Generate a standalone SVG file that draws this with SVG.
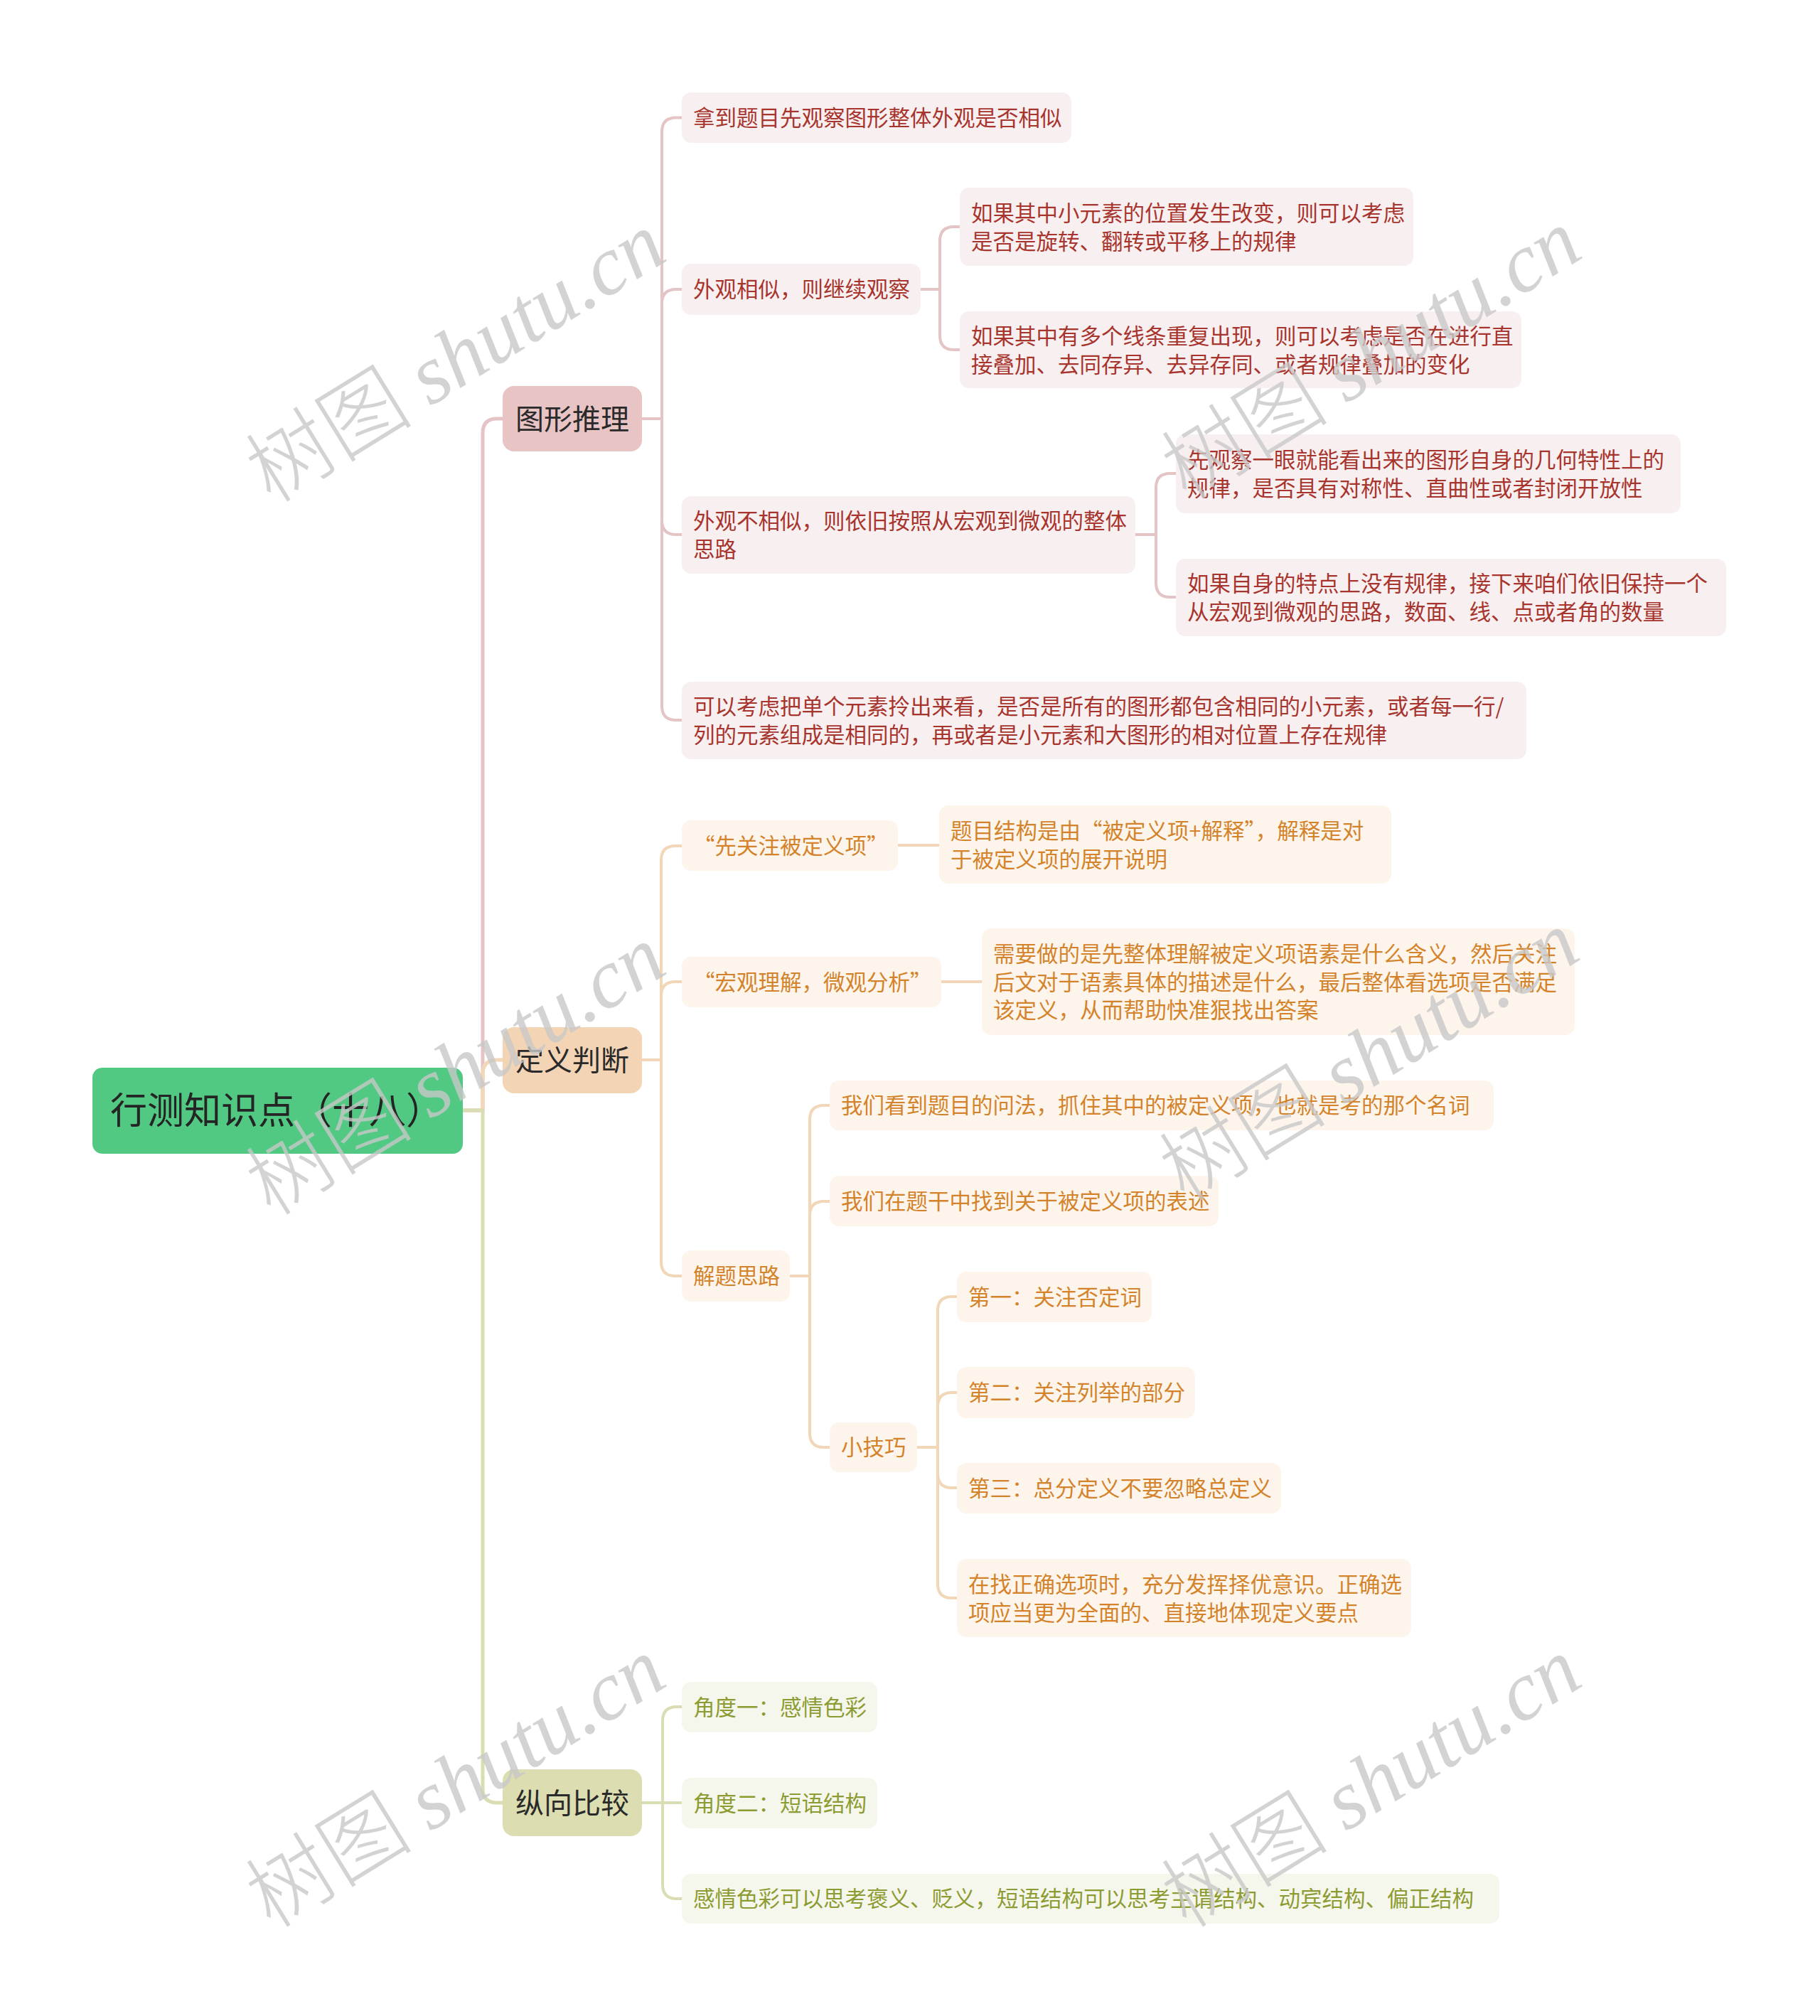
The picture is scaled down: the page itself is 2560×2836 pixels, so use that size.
<svg xmlns="http://www.w3.org/2000/svg" width="2560" height="2836" viewBox="0 0 2560 2836">
<style>
text{font-family:"Noto Sans CJK SC","Noto Sans",sans-serif}
.t0{font-size:52px;fill:#242424}
.t1{font-size:40px;fill:#2a2a2a}
.t2{font-size:30.5px}
.tp{fill:#A8342E}
.to{fill:#D4832B}
.tg{fill:#8C9C33}
.bp{fill:#F8F0F0}
.bo{fill:#FDF5EC}
.bg{fill:#F6F7EC}
.c{fill:none;stroke-width:4;stroke-linecap:round}
.c1{fill:none;stroke-width:5}
.sp{stroke:#E4C4C4}
.so{stroke:#F1D6B8}
.sg{stroke:#DADDB3}
.wm{font-size:118px;font-weight:300;fill:#c8c8c8;fill-opacity:0.8}
.wmi{font-family:"Liberation Serif",serif;font-style:italic;font-weight:normal}
</style>
<rect width="2560" height="2836" fill="#ffffff"/>
<g id="connectors">
<path class="c1 sp" d="M651,1562 H679 V609 Q679,589 699,589 H707"/>
<path class="c1 so" d="M651,1562 H679 V1511 Q679,1491 699,1491 H707"/>
<path class="c1 sg" d="M651,1562 H679 V2516 Q679,2536 699,2536 H707"/>
<path class="c sp" d="M903,589 H931 M931,589 V185.5 Q931,165.5 951,165.5 H959 M931,589 V427 Q931,407 951,407 H959 M931,589 V732 Q931,752 951,752 H959 M931,589 V993 Q931,1013 951,1013 H959"/>
<path class="c sp" d="M1295,407 H1322 M1322,407 V339 Q1322,319 1342,319 H1350 M1322,407 V472 Q1322,492 1342,492 H1350"/>
<path class="c sp" d="M1597,752 H1626 M1626,752 V686 Q1626,666 1646,666 H1654 M1626,752 V820 Q1626,840 1646,840 H1654"/>
<path class="c so" d="M903,1491 H930 M930,1491 V1210 Q930,1190 950,1190 H959 M930,1491 V1401 Q930,1381 950,1381 H959 M930,1491 V1775 Q930,1795 950,1795 H959"/>
<path class="c so" d="M1263,1189 H1321 M1324,1381 H1381"/>
<path class="c so" d="M1111,1795 H1139 M1139,1795 V1575 Q1139,1555 1159,1555 H1167 M1139,1795 V1710 Q1139,1690 1159,1690 H1167 M1139,1795 V2016 Q1139,2036 1159,2036 H1167"/>
<path class="c so" d="M1290,2036 H1319 M1319,2036 V1844 Q1319,1824 1339,1824 H1346 M1319,2036 V1979 Q1319,1959 1339,1959 H1346 M1319,2036 V2073 Q1319,2093 1339,2093 H1346 M1319,2036 V2228 Q1319,2248 1339,2248 H1346"/>
<path class="c sg" d="M903,2536 H959 M932,2536 V2421 Q932,2401 952,2401 H959 M932,2536 V2651 Q932,2671 952,2671 H959"/>
</g>
<g id="root"><rect x="130" y="1502" width="521" height="121" rx="14" fill="#52C983"/><text class="t0" x="155" y="1581">行测知识点（十八）</text></g>
<g id="n-txtl"><rect x="707" y="543" width="196" height="92" rx="16" fill="#E8C4C4"/><text class="t1" x="725" y="604">图形推理</text></g>
<g id="n-dypd"><rect x="707" y="1445" width="196" height="93" rx="16" fill="#F3D5B5"/><text class="t1" x="725" y="1506">定义判断</text></g>
<g id="n-zxbj"><rect x="707" y="2489" width="196" height="94" rx="16" fill="#DCDDB0"/><text class="t1" x="725" y="2551">纵向比较</text></g>

<g id="a1"><rect class="bp" x="959" y="130" width="548" height="71" rx="13"/><text class="t2 tp" x="975" y="177">拿到题目先观察图形整体外观是否相似</text></g>
<g id="a2"><rect class="bp" x="959" y="371" width="336" height="72" rx="13"/><text class="t2 tp" x="975" y="418">外观相似，则继续观察</text></g>
<g id="a2a"><rect class="bp" x="1350" y="264" width="638" height="110" rx="13"/><text class="t2 tp"><tspan x="1366" y="311">如果其中小元素的位置发生改变，则可以考虑</tspan><tspan x="1366" y="350.5">是否是旋转、翻转或平移上的规律</tspan></text></g>
<g id="a2b"><rect class="bp" x="1350" y="438" width="790" height="108" rx="13"/><text class="t2 tp"><tspan x="1366" y="484">如果其中有多个线条重复出现，则可以考虑是否在进行直</tspan><tspan x="1366" y="523.5">接叠加、去同存异、去异存同、或者规律叠加的变化</tspan></text></g>
<g id="a3"><rect class="bp" x="959" y="698" width="638" height="109" rx="13"/><text class="t2 tp"><tspan x="975" y="744">外观不相似，则依旧按照从宏观到微观的整体</tspan><tspan x="975" y="783.5">思路</tspan></text></g>
<g id="a3a"><rect class="bp" x="1654" y="611" width="710" height="111" rx="13"/><text class="t2 tp"><tspan x="1670" y="658">先观察一眼就能看出来的图形自身的几何特性上的</tspan><tspan x="1670" y="697.5">规律，是否具有对称性、直曲性或者封闭开放性</tspan></text></g>
<g id="a3b"><rect class="bp" x="1654" y="786" width="774" height="109" rx="13"/><text class="t2 tp"><tspan x="1670" y="832">如果自身的特点上没有规律，接下来咱们依旧保持一个</tspan><tspan x="1670" y="871.5">从宏观到微观的思路，数面、线、点或者角的数量</tspan></text></g>
<g id="a4"><rect class="bp" x="959" y="959" width="1188" height="109" rx="13"/><text class="t2 tp"><tspan x="975" y="1005">可以考虑把单个元素拎出来看，是否是所有的图形都包含相同的小元素，或者每一行/</tspan><tspan x="975" y="1044.5">列的元素组成是相同的，再或者是小元素和大图形的相对位置上存在规律</tspan></text></g>

<g id="b1"><rect class="bo" x="959" y="1154" width="304" height="71" rx="13"/><text class="t2 to" x="975" y="1201">“先关注被定义项”</text></g>
<g id="b1a"><rect class="bo" x="1321" y="1133" width="636" height="110" rx="13"/><text class="t2 to"><tspan x="1337" y="1180">题目结构是由“被定义项+解释”，解释是对</tspan><tspan x="1337" y="1219.5">于被定义项的展开说明</tspan></text></g>
<g id="b2"><rect class="bo" x="959" y="1346" width="365" height="71" rx="13"/><text class="t2 to" x="975" y="1393">“宏观理解，微观分析”</text></g>
<g id="b2a"><rect class="bo" x="1381" y="1306" width="834" height="150" rx="13"/><text class="t2 to"><tspan x="1397" y="1353">需要做的是先整体理解被定义项语素是什么含义，然后关注</tspan><tspan x="1397" y="1392.5">后文对于语素具体的描述是什么，最后整体看选项是否满足</tspan><tspan x="1397" y="1432">该定义，从而帮助快准狠找出答案</tspan></text></g>
<g id="b3"><rect class="bo" x="959" y="1759" width="152" height="72" rx="13"/><text class="t2 to" x="975" y="1806">解题思路</text></g>
<g id="b3a"><rect class="bo" x="1167" y="1520" width="934" height="70" rx="13"/><text class="t2 to" x="1183" y="1566">我们看到题目的问法，抓住其中的被定义项，也就是考的那个名词</text></g>
<g id="b3b"><rect class="bo" x="1167" y="1654" width="547" height="71" rx="13"/><text class="t2 to" x="1183" y="1701">我们在题干中找到关于被定义项的表述</text></g>
<g id="b3c"><rect class="bo" x="1167" y="2001" width="123" height="70" rx="13"/><text class="t2 to" x="1183" y="2047">小技巧</text></g>
<g id="c1"><rect class="bo" x="1346" y="1789" width="274" height="71" rx="13"/><text class="t2 to" x="1362" y="1836">第一：关注否定词</text></g>
<g id="c2"><rect class="bo" x="1346" y="1923" width="335" height="72" rx="13"/><text class="t2 to" x="1362" y="1970">第二：关注列举的部分</text></g>
<g id="c3"><rect class="bo" x="1346" y="2058" width="456" height="71" rx="13"/><text class="t2 to" x="1362" y="2105">第三：总分定义不要忽略总定义</text></g>
<g id="c4"><rect class="bo" x="1346" y="2193" width="639" height="110" rx="13"/><text class="t2 to"><tspan x="1362" y="2240">在找正确选项时，充分发挥择优意识。正确选</tspan><tspan x="1362" y="2279.5">项应当更为全面的、直接地体现定义要点</tspan></text></g>

<g id="g1"><rect class="bg" x="959" y="2366" width="275" height="71" rx="13"/><text class="t2 tg" x="975" y="2413">角度一：感情色彩</text></g>
<g id="g2"><rect class="bg" x="959" y="2501" width="275" height="71" rx="13"/><text class="t2 tg" x="975" y="2548">角度二：短语结构</text></g>
<g id="g3"><rect class="bg" x="959" y="2636" width="1150" height="70" rx="13"/><text class="t2 tg" x="975" y="2682">感情色彩可以思考褒义、贬义，短语结构可以思考主谓结构、动宾结构、偏正结构</text></g>

<g id="watermarks">
<text class="wm" text-anchor="middle" transform="translate(662,537) rotate(-31.6)">树图 <tspan class="wmi">shutu.cn</tspan></text>
<text class="wm" text-anchor="middle" transform="translate(1950,533) rotate(-31.6)">树图 <tspan class="wmi">shutu.cn</tspan></text>
<text class="wm" text-anchor="middle" transform="translate(662,1540) rotate(-31.6)">树图 <tspan class="wmi">shutu.cn</tspan></text>
<text class="wm" text-anchor="middle" transform="translate(1947,1520) rotate(-31.6)">树图 <tspan class="wmi">shutu.cn</tspan></text>
<text class="wm" text-anchor="middle" transform="translate(662,2542) rotate(-31.6)">树图 <tspan class="wmi">shutu.cn</tspan></text>
<text class="wm" text-anchor="middle" transform="translate(1950,2542) rotate(-31.6)">树图 <tspan class="wmi">shutu.cn</tspan></text>
</g>
</svg>
